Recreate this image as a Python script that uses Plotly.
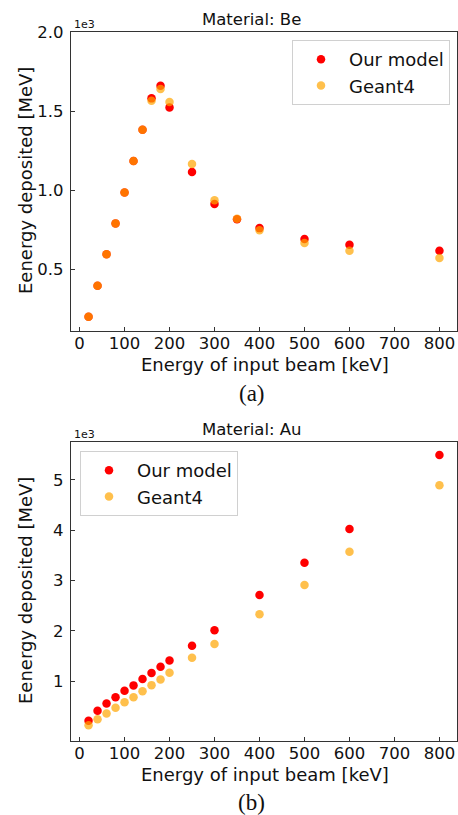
import plotly.graph_objects as go

W, H = 458, 815

# ---- data ----
energy_be = [20, 40, 60, 80, 100, 120, 140, 160, 180, 200, 250, 300, 350, 400, 500, 600, 800]
be_model = [198, 394, 593, 789, 985, 1183, 1381, 1580, 1660, 1523, 1114, 911, 815, 759, 690, 654, 616]
be_geant = [198, 394, 593, 789, 985, 1183, 1381, 1565, 1640, 1557, 1165, 935, 818, 745, 665, 616, 570]

energy_au = [20, 40, 60, 80, 100, 120, 140, 160, 180, 200, 250, 300, 400, 500, 600, 800]
au_model = [213, 410, 557, 680, 810, 915, 1040, 1160, 1286, 1410, 1700, 2010, 2710, 3350, 4020, 5490]
au_geant = [125, 240, 358, 470, 580, 680, 800, 920, 1034, 1167, 1465, 1735, 2330, 2910, 3570, 4890]

x_ticks = [0, 100, 200, 300, 400, 500, 600, 700, 800]
be_ytick_vals = [500, 1000, 1500, 2000]
be_ytick_text = ["0.5", "1.0", "1.5", "2.0"]
au_ytick_vals = [1000, 2000, 3000, 4000, 5000]
au_ytick_text = ["1", "2", "3", "4", "5"]

RED = "rgb(255,0,0)"
ORANGE = "rgba(255,165,0,0.7)"
FONT = "DejaVu Sans"
MSIZE = 8.5


def px_x(p):
    return p / W


def px_y(p):
    return 1 - p / H


fig = go.Figure()

fig.add_trace(go.Scatter(x=energy_be, y=be_model, mode="markers", name="Our model",
                         marker=dict(color=RED, size=MSIZE, line=dict(width=0)),
                         xaxis="x", yaxis="y", legend="legend"))
fig.add_trace(go.Scatter(x=energy_be, y=be_geant, mode="markers", name="Geant4",
                         marker=dict(color=ORANGE, size=MSIZE, line=dict(width=0)),
                         xaxis="x", yaxis="y", legend="legend"))
fig.add_trace(go.Scatter(x=energy_au, y=au_model, mode="markers", name="Our model",
                         marker=dict(color=RED, size=MSIZE, line=dict(width=0)),
                         xaxis="x2", yaxis="y2", legend="legend2"))
fig.add_trace(go.Scatter(x=energy_au, y=au_geant, mode="markers", name="Geant4",
                         marker=dict(color=ORANGE, size=MSIZE, line=dict(width=0)),
                         xaxis="x2", yaxis="y2", legend="legend2"))

axis_common = dict(showline=True, linecolor="#333", linewidth=1.2, mirror=True,
                   ticks="inside", ticklen=4, tickcolor="#333", tickwidth=1,
                   showgrid=False, zeroline=False, automargin=False,
                   tickfont=dict(family=FONT, size=16.5, color="#111"))

xaxis_common = dict(axis_common, ticklabelstandoff=-3)
yaxis_common = dict(axis_common, ticklabelstandoff=3)

xdom = [px_x(71), px_x(457)]

legend_common = dict(xanchor="left", yanchor="top", bordercolor="#d0d0d0", borderwidth=1,
                     bgcolor="rgba(255,255,255,0.9)", itemwidth=46,
                     font=dict(family=FONT, size=18, color="#111"))

fig.update_layout(
    width=W, height=H,
    autosize=False,
    margin=dict(l=0, r=0, t=0, b=0, pad=0, autoexpand=False),
    paper_bgcolor="white", plot_bgcolor="white",
    font=dict(family=FONT, color="#111"),
    xaxis=dict(domain=xdom, anchor="y", range=[-19, 839], tickvals=x_ticks, **xaxis_common),
    yaxis=dict(domain=[px_y(331), px_y(32)], anchor="x", range=[108, 2000],
               tickvals=be_ytick_vals, ticktext=be_ytick_text, **yaxis_common),
    xaxis2=dict(domain=xdom, anchor="y2", range=[-19, 839], tickvals=x_ticks, **xaxis_common),
    yaxis2=dict(domain=[px_y(741), px_y(442)], anchor="x2", range=[-190, 5750],
                tickvals=au_ytick_vals, ticktext=au_ytick_text, **yaxis_common),
    legend=dict(x=px_x(292), y=px_y(40), **legend_common),
    legend2=dict(x=px_x(80), y=px_y(451), **legend_common),
    showlegend=True,
)

ann = []


def text(x, y, s, size, family=FONT, angle=0, xanchor="center", yanchor="middle"):
    ann.append(dict(x=px_x(x), y=px_y(y), xref="paper", yref="paper", text=s,
                    showarrow=False, textangle=angle, xanchor=xanchor, yanchor=yanchor,
                    font=dict(family=family, size=size, color="#111")))


# top panel
text(252, 20, "Material: Be", 16.5)
text(72, 24, "1e3", 11, xanchor="left")
text(25, 181, "Eenergy deposited [MeV]", 18, angle=-90)
text(265, 364, "Energy of input beam [keV]", 18)
text(252, 393, "(a)", 23, family="Liberation Serif")

# bottom panel
text(252, 430, "Material: Au", 16.5)
text(72, 434, "1e3", 11, xanchor="left")
text(25, 591, "Eenergy deposited [MeV]", 18, angle=-90)
text(265, 774, "Energy of input beam [keV]", 18)
text(252, 802, "(b)", 23, family="Liberation Serif")

fig.update_layout(annotations=ann)

fig.write_html(
    "out.html",
    config={"displayModeBar": False},
    post_script="document.body.style.margin='0';document.body.style.overflow='hidden';",
)
